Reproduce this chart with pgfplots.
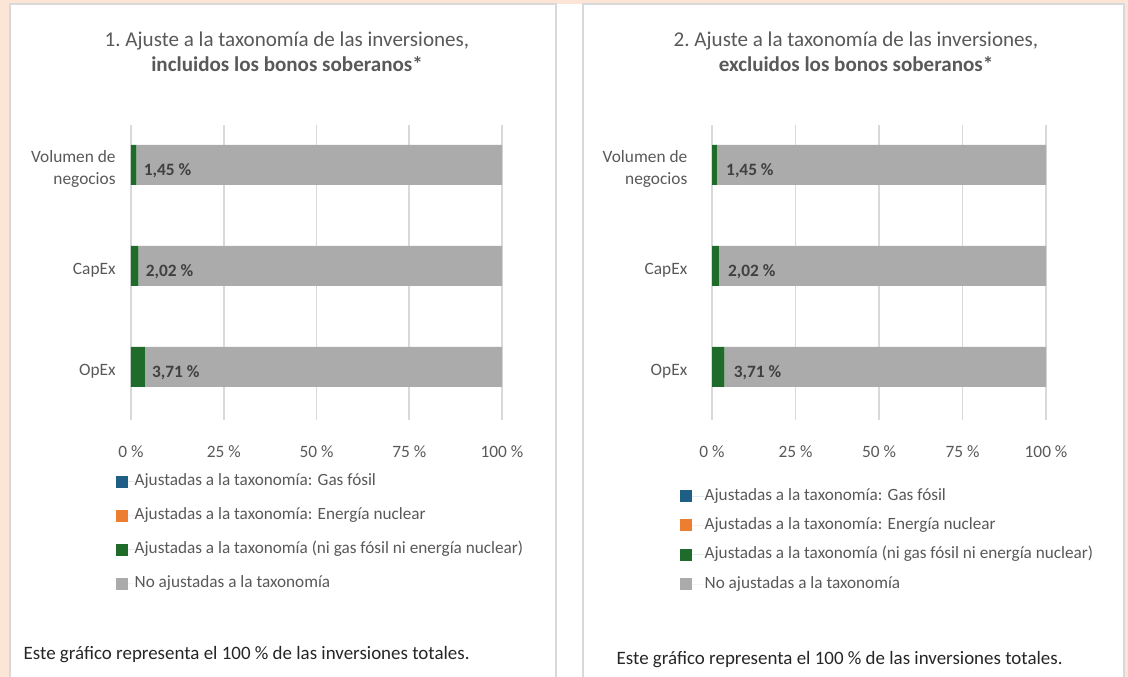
\documentclass[border=0pt]{standalone}
\usepackage{pgfplots}
\pgfplotsset{compat=1.18}
\usepackage{fontspec}
\setmainfont{Carlito}
\definecolor{peach}{HTML}{FCE4D6}
\definecolor{bordc}{HTML}{D9D9D9}
\definecolor{gridc}{HTML}{D9D9D9}
\definecolor{greyb}{HTML}{ABABAB}
\definecolor{greenb}{HTML}{1E6B2A}
\definecolor{blueb}{HTML}{1F5F86}
\definecolor{orangeb}{HTML}{ED7D31}
\definecolor{txt}{HTML}{595959}
\definecolor{lblc}{HTML}{404040}

\tikzset{barlab/.style={anchor=west, font=\fontsize{13pt}{15pt}\selectfont\bfseries, text=lblc}}
\pgfplotsset{
  panel/.style={
    xbar stacked,
    scale only axis,
    height=221.25pt,
    xmin=0, xmax=100,
    ymin=-0.525, ymax=2.396,
    ytick={0,1,2},
    yticklabels={OpEx,CapEx,{Volumen de\\negocios}},
    xtick={0,25,50,75,100},
    xticklabels={0~\%,25~\%,50~\%,75~\%,100~\%},
    xmajorgrids,
    grid style={draw=gridc, line width=1.2pt},
    axis line style={draw=none},
    major tick length=0pt,
    bar width=30pt,
    tick label style={font=\fontsize{13pt}{16.5pt}\selectfont, text=txt},
    yticklabel style={align=right, yshift=-3pt},
    xticklabel style={yshift=-16pt},
    legend cell align=left,
    clip=false,
  },
  sqleg/.style={legend image code/.code={\path[##1] (0pt,-4.6pt) rectangle (9.2pt,4.6pt); \path (0pt,0pt) -- (#1,0pt);}},
}

\begin{document}
\begin{tikzpicture}
\begin{scope}[x=0.75pt,y=-0.75pt]
  \path[use as bounding box, fill=peach] (0,0) rectangle (1128,677);
  \fill[white] (10,4) rectangle (1124,677);
  \draw[bordc, line width=1.5pt] (10,677) -- (10,4.5) -- (556,4.5) -- (556,677);
  \draw[bordc, line width=1.5pt] (583,677) -- (583,4.5) -- (1124,4.5) -- (1124,677);
  \coordinate (A) at (131,420);
  \coordinate (B) at (712,420);
  \node[text=txt, font=\fontsize{15.8pt}{18pt}\selectfont] at (287,41) {1.\ Ajuste a la taxonomía de las inversiones,};
  \node[text=txt, font=\fontsize{15.8pt}{18pt}\selectfont\bfseries] at (287,64) {incluidos los bonos soberanos*};
  \node[text=txt, font=\fontsize{15.8pt}{18pt}\selectfont] at (856,41) {2.\ Ajuste a la taxonomía de las inversiones,};
  \node[text=txt, font=\fontsize{15.8pt}{18pt}\selectfont\bfseries] at (856,64) {excluidos los bonos soberanos*};
  \node[anchor=west, text=black!85, font=\fontsize{14.2pt}{16pt}\selectfont] at (19,655) {Este gráfico representa el 100~\% de las inversiones totales.};
  \node[anchor=west, text=black!85, font=\fontsize{14.2pt}{16pt}\selectfont] at (612,660) {Este gráfico representa el 100~\% de las inversiones totales.};
\end{scope}

\begin{axis}[panel, at={(A)}, anchor=south west, width=278.25pt,
  yticklabel style={xshift=-8pt},
  sqleg=14pt,
  legend style={at={(axis description cs:-0.0404,-0.183)}, anchor=north west, draw=none, fill=none,
    font=\fontsize{12.9pt}{15pt}\selectfont, text=txt, row sep=13.5pt, inner sep=0pt, outer sep=0pt,
    nodes={inner sep=0pt, text height=9pt, text depth=3pt}},
]
\addplot[fill=blueb, draw=none] coordinates {(0,0) (0,1) (0,2)};
\addplot[fill=orangeb, draw=none] coordinates {(0,0) (0,1) (0,2)};
\addplot[fill=greenb, draw=none] coordinates {(3.71,0) (2.02,1) (1.45,2)};
\addplot[fill=greyb, draw=none] coordinates {(96.29,0) (97.98,1) (98.55,2)};
\legend{Ajustadas a la taxonomía: Gas fósil, Ajustadas a la taxonomía: Energía nuclear, Ajustadas a la taxonomía (ni gas fósil ni energía nuclear), No ajustadas a la taxonomía}
\coordinate (L1) at (axis cs:1.45,2);
\coordinate (L2) at (axis cs:2.02,1);
\coordinate (L3) at (axis cs:3.71,0);
\end{axis}
\node[barlab, xshift=2pt, yshift=-4.5pt] at (L1) {1,45~\%};
\node[barlab, xshift=2pt, yshift=-4.5pt] at (L2) {2,02~\%};
\node[barlab, xshift=2pt, yshift=-4.5pt] at (L3) {3,71~\%};

\begin{axis}[panel, at={(B)}, anchor=south west, width=250.5pt,
  yticklabel style={xshift=-15pt},
  sqleg=18.5pt,
  legend style={at={(axis description cs:-0.0958,-0.2305)}, anchor=north west, draw=none, fill=none,
    font=\fontsize{12.9pt}{15pt}\selectfont, text=txt, row sep=10pt, inner sep=0pt, outer sep=0pt,
    nodes={inner sep=0pt, text height=9pt, text depth=3pt}},
]
\addplot[fill=blueb, draw=none] coordinates {(0,0) (0,1) (0,2)};
\addplot[fill=orangeb, draw=none] coordinates {(0,0) (0,1) (0,2)};
\addplot[fill=greenb, draw=none] coordinates {(3.71,0) (2.02,1) (1.45,2)};
\addplot[fill=greyb, draw=none] coordinates {(96.29,0) (97.98,1) (98.55,2)};
\legend{Ajustadas a la taxonomía: Gas fósil, Ajustadas a la taxonomía: Energía nuclear, Ajustadas a la taxonomía (ni gas fósil ni energía nuclear), No ajustadas a la taxonomía}
\coordinate (R1) at (axis cs:1.45,2);
\coordinate (R2) at (axis cs:2.02,1);
\coordinate (R3) at (axis cs:3.71,0);
\end{axis}
\node[barlab, xshift=3.5pt, yshift=-4.5pt] at (R1) {1,45~\%};
\node[barlab, xshift=3.5pt, yshift=-4.5pt] at (R2) {2,02~\%};
\node[barlab, xshift=3.5pt, yshift=-4.5pt] at (R3) {3,71~\%};
\end{tikzpicture}
\end{document}
